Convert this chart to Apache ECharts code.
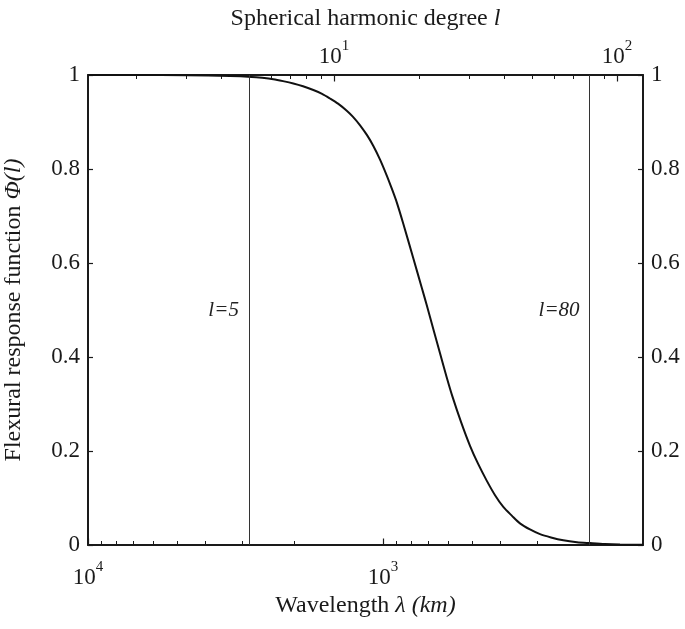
<!DOCTYPE html>
<html>
<head>
<meta charset="utf-8">
<script src="https://cdn.jsdelivr.net/npm/echarts@6/dist/echarts.min.js"></script>
<style>
  html, body { margin: 0; padding: 0; background: #fff; }
  #chart { width: 685px; height: 629px; }
</style>
</head>
<body>
<div id="chart"></div>
<script>
// 球谐阶数 l 与挠曲响应函数 Φ(l)，读自原图
var degree = [1.35, 2, 3, 4.29, 5.12, 5.57, 6.1, 6.6, 7.18, 7.77, 8.45, 9.07, 9.68, 10.33,
  11.09, 11.67, 12.36, 13.08, 13.77, 14.54, 15.36, 16.03, 16.66, 17.58, 19.06, 20.41,
  21.27, 22.44, 23.69, 25.01, 26.27, 28.1, 30.24, 32.28, 34.64, 37.07, 39.65, 42.56,
  45.41, 49.27, 53.45, 58.45, 64.6, 72.2, 80.3, 90.7, 102.5, 123.6];
var phi = [1.0, 1.0, 0.9996, 0.998, 0.996, 0.994, 0.991, 0.987, 0.982, 0.976, 0.968, 0.960,
  0.950, 0.939, 0.924, 0.911, 0.893, 0.872, 0.849, 0.820, 0.786, 0.757, 0.729, 0.683,
  0.610, 0.548, 0.510, 0.459, 0.408, 0.357, 0.314, 0.262, 0.211, 0.173, 0.137, 0.106,
  0.081, 0.062, 0.046, 0.033, 0.023, 0.016, 0.010, 0.006, 0.004, 0.002, 0.001, 0.0005];

// 两条参考竖线
var markDegrees = [5, 80];
var markLabels = ['l=5', 'l=80'];

// 坐标轴范围和刻度
var degreeRange = [1.35, 123.6];
var wavelengthRange = [131.5, 10000];
var degreeMajor = [10, 100];
var degreeMinor = [2, 3, 4, 5, 6, 7, 8, 9, 10, 20, 30, 40, 50, 60, 70, 80, 90, 100];
var wavelengthMajor = [1000, 10000];
var wavelengthMinor = [200, 300, 400, 500, 600, 700, 800, 900, 1000,
  2000, 3000, 4000, 5000, 6000, 7000, 8000, 9000, 10000];
var phiTicks = [0, 0.2, 0.4, 0.6, 0.8, 1];

var FONT = 'Liberation Serif';
var INK = '#1a1a1a';

var supRich = {
  b: { fontFamily: FONT, fontSize: 23, color: INK, padding: [6, 0, 0, 0] },
  s: { fontFamily: FONT, fontSize: 15, color: INK, verticalAlign: 'top', lineHeight: 15 }
};
function powLabel(v) {
  return '{b|10}{s|' + Math.round(Math.log10(v)) + '}';
}

var nameRich = {
  n: { fontFamily: FONT, fontSize: 24, color: INK },
  i: { fontFamily: FONT, fontSize: 24, color: INK, fontStyle: 'italic' }
};

var points = degree.map(function (l, k) { return [l, phi[k]]; });

var option = {
  backgroundColor: '#fff',
  animation: false,
  grid: { left: 88, right: 42, top: 75, bottom: 84, outerBoundsMode: 'none' },
  xAxis: [
    {
      type: 'log', position: 'bottom', inverse: true,
      min: wavelengthRange[0], max: wavelengthRange[1],
      name: '{n|Wavelength }{i|λ (km)}',
      nameLocation: 'middle', nameGap: 45,
      nameTextStyle: { rich: nameRich },
      axisLine: { show: true, onZero: false, lineStyle: { color: INK, width: 2 } },
      axisTick: { show: true, inside: true, length: 4, customValues: wavelengthMinor,
        lineStyle: { color: INK, width: 1 } },
      axisLabel: { show: true, margin: 15, customValues: wavelengthMajor,
        formatter: powLabel, rich: supRich },
      splitLine: { show: false }
    },
    {
      type: 'log', position: 'top',
      min: degreeRange[0], max: degreeRange[1],
      name: '{n|Spherical harmonic degree }{i|l}',
      nameLocation: 'middle', nameGap: 44,
      nameTextStyle: { rich: nameRich },
      axisLine: { show: true, onZero: false, lineStyle: { color: INK, width: 2 } },
      axisTick: { show: true, inside: true, length: 4, customValues: degreeMinor,
        lineStyle: { color: INK, width: 1 } },
      axisLabel: { show: true, margin: 7, customValues: degreeMajor,
        formatter: powLabel, rich: supRich },
      splitLine: { show: false }
    },
    {
      // 波长主刻度（较长）
      type: 'log', position: 'bottom', inverse: true,
      min: wavelengthRange[0], max: wavelengthRange[1],
      axisLine: { show: false, onZero: false },
      axisTick: { show: true, inside: true, length: 6.5, customValues: wavelengthMajor,
        lineStyle: { color: INK, width: 1.2 } },
      axisLabel: { show: false },
      splitLine: { show: false }
    },
    {
      // 阶数主刻度（较长）
      type: 'log', position: 'top',
      min: degreeRange[0], max: degreeRange[1],
      axisLine: { show: false, onZero: false },
      axisTick: { show: true, inside: true, length: 6.5, customValues: degreeMajor,
        lineStyle: { color: INK, width: 1.2 } },
      axisLabel: { show: false },
      splitLine: { show: false }
    }
  ],
  yAxis: [
    {
      type: 'value', position: 'left', min: 0, max: 1, interval: 0.2,
      name: '{n|Flexural response function }{i|Φ(l)}',
      nameLocation: 'middle', nameGap: 62,
      nameTextStyle: { rich: nameRich },
      axisLine: { show: true, onZero: false, lineStyle: { color: INK, width: 2 } },
      axisTick: { show: true, inside: true, length: 5, lineStyle: { color: INK, width: 1.2 } },
      axisLabel: { margin: 8, fontFamily: FONT, fontSize: 23, color: INK,
        customValues: phiTicks },
      splitLine: { show: false }
    },
    {
      type: 'value', position: 'right', min: 0, max: 1, interval: 0.2,
      axisLine: { show: true, onZero: false, lineStyle: { color: INK, width: 2 } },
      axisTick: { show: true, inside: true, length: 5, lineStyle: { color: INK, width: 1.2 } },
      axisLabel: { margin: 8, fontFamily: FONT, fontSize: 23, color: INK,
        customValues: phiTicks },
      splitLine: { show: false }
    }
  ],
  series: [
    {
      type: 'line',
      xAxisIndex: 1, yAxisIndex: 0,
      data: points,
      smooth: 0.3,
      symbol: 'none',
      clip: true,
      lineStyle: { color: '#111', width: 2 },
      markLine: {
        silent: true,
        symbol: ['none', 'none'],
        lineStyle: { color: '#333', width: 1, type: 'solid' },
        label: { show: false },
        data: markDegrees.map(function (l) { return { xAxis: l }; })
      },
      markPoint: {
        silent: true,
        symbol: 'circle', symbolSize: 0,
        label: {
          show: true, position: 'left', distance: 10,
          fontFamily: FONT, fontSize: 21, fontStyle: 'italic', color: '#222',
          formatter: function (p) { return p.name; }
        },
        data: markDegrees.map(function (l, k) {
          return { name: markLabels[k], coord: [l, 0.5] };
        })
      }
    }
  ]
};

var chart = echarts.init(document.getElementById('chart'), null, { renderer: 'canvas' });
chart.setOption(option);
</script>
</body>
</html>
